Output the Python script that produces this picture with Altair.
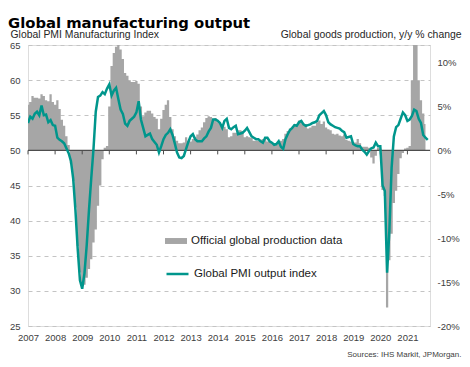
import altair as alt
import pandas as pd

# Global PMI output index (monthly, Jan 2007 - Oct 2021)
pmi = [
    53.9, 54.8, 54.5, 55.2, 55.5, 55.0, 56.4, 55.0, 55.1, 54.0, 54.3, 53.6,  # 2007
    53.5, 51.8, 51.5, 51.3, 51.0, 50.3, 49.6, 48.5, 46.0, 41.5, 36.0, 31.5,  # 2008
    30.3, 32.5, 36.5, 41.5, 46.0, 50.2, 55.5, 57.6, 57.8, 58.3, 58.0, 58.8,  # 2009
    59.4, 57.8, 58.5, 58.9, 57.3, 55.8, 55.2, 53.8, 53.5, 54.2, 54.5, 54.8,  # 2010
    55.4, 57.0, 54.4, 53.2, 52.0, 52.2, 52.4, 51.6, 51.2, 50.8, 49.7, 50.6,  # 2011
    51.6, 52.2, 52.5, 53.0, 52.2, 51.0, 49.7, 49.0, 48.9, 49.2, 50.2, 51.2,  # 2012
    52.0, 52.3, 51.6, 51.3, 51.3, 51.3, 51.7, 52.0, 52.7, 53.2, 54.4, 54.4,  # 2013
    54.2, 53.9, 53.2, 54.2, 54.5, 53.2, 53.0, 53.3, 53.5, 52.3, 52.4, 52.5,  # 2014
    52.8, 53.2, 52.6, 52.0, 51.8, 51.6, 51.6, 51.3, 51.1, 51.8, 51.8, 51.3,  # 2015
    51.1, 50.8, 50.9, 51.3, 50.5, 50.2, 51.6, 52.3, 52.9, 53.2, 53.6, 53.5,  # 2016
    54.0, 54.2, 53.7, 53.5, 53.6, 53.7, 53.9, 54.0, 54.2, 55.0, 55.3, 55.6,  # 2017
    55.0, 54.0, 53.7, 53.5, 53.3, 53.2, 53.1, 52.8, 52.6, 51.8, 51.9, 52.0,  # 2018
    50.9, 50.7, 50.6, 50.6, 50.1, 49.8, 49.4, 49.9, 50.3, 50.4, 51.1, 50.6,  # 2019
    50.6, 45.0, 44.2, 32.6, 38.5, 47.5, 52.0, 53.3, 53.6, 54.5, 55.4, 55.0,  # 2020
    54.2, 54.4, 54.9, 55.8, 55.6, 54.5, 53.9, 52.2, 51.8, 51.5,              # 2021
]

# Official global production data, y/y % change (monthly, Jan 2007 - Sep 2021)
prod = [
    5.2, 5.5, 6.2, 6.0, 6.0, 5.9, 6.4, 6.2, 5.7, 5.6, 6.4, 5.5,              # 2007
    5.2, 5.7, 4.7, 3.5, 2.8, 1.6, 0.6, -1.5, -3.5, -6.5, -10.9, -13.9,       # 2008
    -15.4, -15.3, -14.5, -13.5, -12.4, -10.5, -9.0, -6.3, -4.0, -1.0, 0.3, 0.5,  # 2009
    5.0, 9.6, 11.1, 11.8, 12.2, 11.5, 10.4, 8.8, 8.5, 8.0, 7.8, 7.8,         # 2010
    7.9, 7.6, 5.0, 3.9, 4.3, 4.5, 4.5, 4.2, 3.8, 3.6, 2.4, 3.6,              # 2011
    4.6, 5.2, 5.7, 3.8, 2.4, 1.6, 1.1, 0.8, 0.8, 0.9, 1.5, 1.1,              # 2012
    1.0, 1.3, 1.5, 1.8, 2.3, 2.6, 3.2, 3.7, 3.9, 3.8, 3.6, 3.7,              # 2013
    3.2, 3.0, 2.8, 2.7, 2.4, 1.5, 1.6, 2.0, 2.0, 2.3, 2.3, 2.2,              # 2014
    1.5, 1.6, 1.5, 1.4, 1.1, 1.1, 1.1, 1.2, 1.3, 1.3, 1.0, 1.0,              # 2015
    0.9, 0.6, 0.6, 0.8, 1.1, 1.3, 1.9, 2.2, 2.5, 2.6, 3.0, 3.0,              # 2016
    3.4, 3.4, 3.0, 3.0, 2.5, 2.6, 2.8, 2.8, 3.2, 3.4, 3.0, 3.3,              # 2017
    2.6, 2.4, 2.3, 1.9, 1.8, 1.9, 1.7, 1.6, 1.8, 1.2, 1.1, 1.0,              # 2018
    0.9, 0.9, 1.3, 0.8, 0.4, 0.4, 0.4, 0.3, -0.8, -1.5, -0.6, 0.3,           # 2019
    0.2, -4.5, -5.2, -17.9, -12.5, -9.5, -6.0, -4.6, -2.7, -0.9, -0.3, 0.2,  # 2020
    0.3, 0.5, 8.0, 16.0, 14.0, 8.0, 5.7, 4.2, 3.0,                           # 2021
]

years = list(range(2007, 2022))
left_ticks = [25, 30, 35, 40, 45, 50, 55, 60, 65]
right_ticks = [-20, -15, -10, -5, 0, 5, 10]

BAR_NAME = "Official global production data"
LINE_NAME = "Global PMI output index"
GRAY = "#a6a6a6"
TEAL = "#00968c"
FONT = "Liberation Sans"

line_df = pd.DataFrame({"m": list(range(len(pmi))), "pmi": pmi, "series": LINE_NAME})
bar_df = pd.DataFrame({"m": list(range(len(prod))), "prod": prod, "series": BAR_NAME})
tick_df = pd.DataFrame({"m": [(y - 2007) * 12 for y in years], "level": 50})
zero_df = pd.DataFrame({"level": [50]})

xscale = alt.Scale(domain=[0, 178], nice=False, zero=False)
lscale = alt.Scale(domain=[25, 65], nice=False, zero=False)
rscale = alt.Scale(domain=[-20, 12], nice=False, zero=False)

x_axis = alt.Axis(
    values=[(y - 2007) * 12 for y in years],
    labelExpr="'' + (2007 + round(datum.value / 12))",
    labelOverlap=False, labelBound=False, labelFlush=False,
    domain=False, ticks=False, grid=False,
    labelFontSize=9.5, labelColor="#404040", labelPadding=6, labelFont=FONT,
    title="Sources: IHS Markit, JPMorgan.",
    titleFontSize=8, titleFontWeight="normal", titleColor="#404040", titleFont=FONT,
    titleX=433, titleY=28, titleAlign="right", titleBaseline="middle", titleAnchor="end",
)

# monthly columns drawn as a stepped area (one bar per month, no seams)
bars = alt.Chart(bar_df).mark_area(clip=True, interpolate="step").encode(
    x=alt.X("m:Q", scale=xscale, axis=x_axis),
    y=alt.Y("prod:Q", scale=rscale, axis=alt.Axis(
        orient="right", values=right_ticks, labelExpr="datum.value + '%'",
        grid=False, ticks=False, domain=False, labelPadding=7,
        labelFontSize=9.5, labelColor="#404040", labelFont=FONT,
        title="Global goods production, y/y % change", titleAngle=0,
        titleX=31, titleY=-7.3, titleAlign="right", titleBaseline="alphabetic",
        titleFontSize=10.4, titleFontWeight="normal", titleColor="#262626", titleFont=FONT,
    )),
    y2=alt.datum(0),
    fill=alt.Fill("series:N", scale=alt.Scale(domain=[BAR_NAME], range=[GRAY]), legend=alt.Legend(
        title=None, orient="none", legendX=137, legendY=185, padding=0,
        symbolType="M-1,-0.27L1,-0.27L1,0.27L-1,0.27Z", symbolSize=484, symbolStrokeWidth=0,
        symbolOpacity=1,
        labelFontSize=11.5, labelColor="#1a1a1a", labelFont=FONT, labelOffset=4,
    )),
)

zero = alt.Chart(zero_df).mark_rule(color="#4d4d4d", strokeWidth=1.3).encode(
    y=alt.Y("level:Q", scale=lscale, axis=None),
)

ticks = alt.Chart(tick_df).mark_rule(color="#4d4d4d", strokeWidth=1, y2Offset=4).encode(
    x=alt.X("m:Q", scale=xscale, axis=x_axis),
    y=alt.Y("level:Q", scale=lscale, axis=None),
    y2="level",
)

line = alt.Chart(line_df).mark_line(strokeWidth=2.5, clip=True).encode(
    x=alt.X("m:Q", scale=xscale, axis=x_axis),
    y=alt.Y("pmi:Q", scale=lscale, axis=alt.Axis(
        orient="left", values=left_ticks, grid=True, gridDash=[4, 4], gridColor="#c4c4c4",
        gridWidth=1, ticks=False, domain=False, labelPadding=8,
        labelFontSize=9.5, labelColor="#404040", labelFont=FONT,
        title="Global PMI Manufacturing Index", titleAngle=0,
        titleX=-18, titleY=-7.3, titleAlign="left", titleBaseline="alphabetic",
        titleFontSize=10.4, titleFontWeight="normal", titleColor="#262626", titleFont=FONT,
    )),
    stroke=alt.Stroke("series:N", scale=alt.Scale(domain=[LINE_NAME], range=[TEAL]), legend=alt.Legend(
        title=None, orient="none", legendX=137, legendY=216.5, padding=0,
        symbolType="stroke", symbolSize=484, symbolStrokeWidth=2.5,
        labelFontSize=11.5, labelColor="#1a1a1a", labelFont=FONT, labelOffset=4,
    )),
)

chart = alt.layer(bars, zero, ticks, line).resolve_scale(y="independent").properties(
    width=402,
    height=281,
    autosize=alt.AutoSizeParams(type="none"),
    padding={"left": 20, "top": 37, "right": 32, "bottom": 33},
    title=alt.TitleParams(
        "Global manufacturing output", anchor="start", frame="group",
        fontSize=14.8, fontWeight="bold", font="DejaVu Sans", color="#000000",
        dx=-20, dy=21.3, offset=8, baseline="alphabetic",
    ),
).configure_view(stroke=None).configure(background="white")

chart.save("out.html", embed_options={"renderer": "svg", "actions": False})
